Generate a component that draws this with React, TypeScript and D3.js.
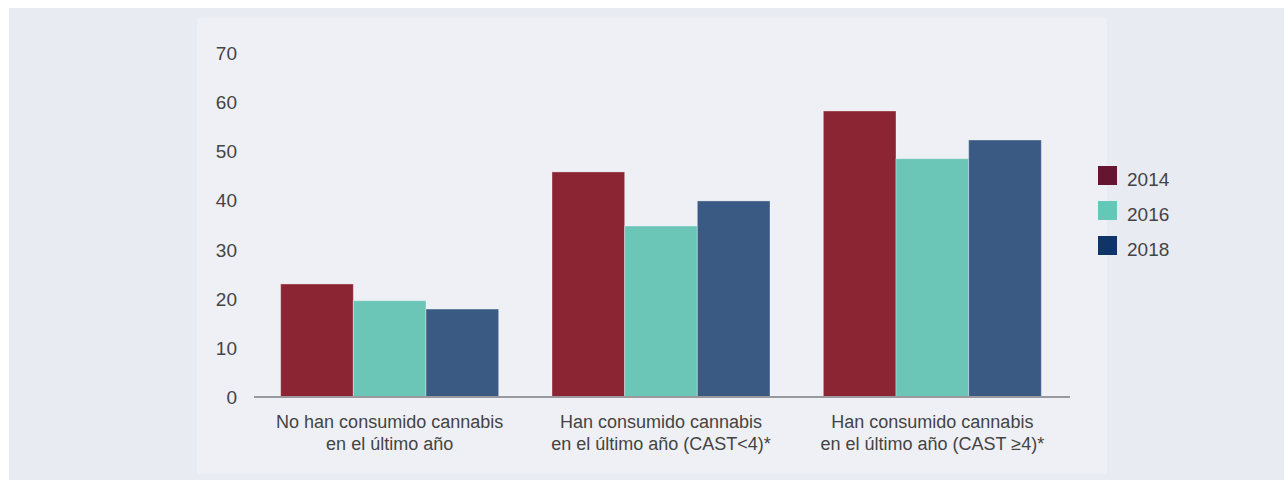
import React from "react";
import * as d3 from "d3";

const categories = [
  ["No han consumido cannabis", "en el último año"],
  ["Han consumido cannabis", "en el último año (CAST<4)*"],
  ["Han consumido cannabis", "en el último año (CAST ≥4)*"],
];
const seriesNames = ["2014", "2016", "2018"];
const v2014 = [23.0, 45.8, 58.2];
const v2016 = [19.6, 34.8, 48.5];
const v2018 = [17.9, 39.9, 52.3];
const yTicks = [0, 10, 20, 30, 40, 50, 60, 70];

const barColors = ["#8c2533", "#6bc6b8", "#3a5a83"];
const legendColors = ["#641530", "#64c8b8", "#0f3468"];

export default function App() {
  const W = 1284, H = 480;
  const font = "'Liberation Sans', Arial, Helvetica, sans-serif";
  const y = d3.scaleLinear().domain([0, 70]).range([397, 53]);
  const series = [v2014, v2016, v2018];
  const groupW = 218;
  const xs = d3.scaleBand<number>().domain([0, 1, 2]).range([254, 1068]);
  const xb = d3.scaleBand<number>().domain([0, 1, 2]).range([0, groupW]);
  return (
    <svg width={W} height={H} style={{ position: "absolute", left: 0, top: 0, background: "#fff" }}>
      <rect x={9} y={8} width={W - 9} height={H - 8} fill="#e9ebf3" />
      <rect x={197} y={18} width={910} height={456} fill="#eef0f5" />
      {series.map((vals, si) =>
        vals.map((v, ci) => {
          const gx = (xs(ci) as number) + xs.bandwidth() / 2 - groupW / 2;
          return (
            <rect
              key={`${si}-${ci}`}
              x={gx + (xb(si) as number)}
              y={y(v)}
              width={xb.bandwidth()}
              height={y(0) - y(v)}
              fill={barColors[si]}
              stroke="rgba(255,255,255,0.35)"
              strokeWidth={1}
            />
          );
        })
      )}
      <line x1={254} x2={1070} y1={397} y2={397} stroke="#9a9a9c" strokeWidth={2} />
      {yTicks.map((t) => (
        <text key={t} x={237} y={y(t) + 7} textAnchor="end" fontFamily={font} fontSize={19} fill="#444">
          {t}
        </text>
      ))}
      {categories.map((lines, ci) => {
        const cx = (xs(ci) as number) + xs.bandwidth() / 2;
        return (
          <text key={ci} textAnchor="middle" fontFamily={font} fontSize={18} fill="#444">
            {lines.map((l, li) => (
              <tspan key={li} x={cx} y={428 + li * 21.5}>{l}</tspan>
            ))}
          </text>
        );
      })}
      {seriesNames.map((n, i) => (
        <g key={n} transform={`translate(1098, ${166 + i * 35})`}>
          <rect width={19} height={19} fill={legendColors[i]} />
          <text x={29} y={20} fontFamily={font} fontSize={19} fill="#444">{n}</text>
        </g>
      ))}
    </svg>
  );
}
